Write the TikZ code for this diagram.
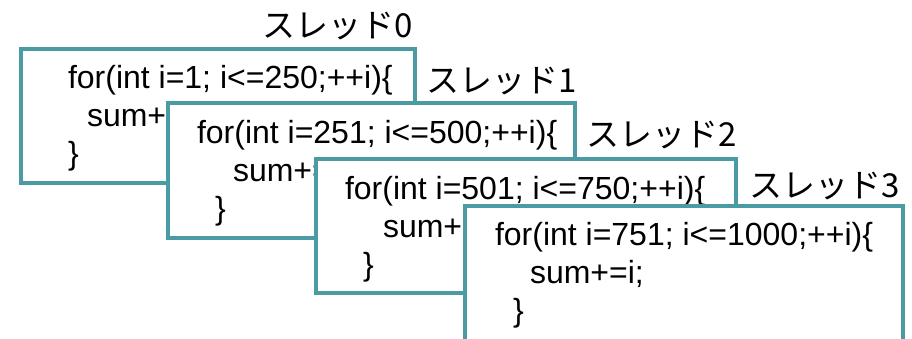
\documentclass[tikz,border=0pt]{standalone}
\usepackage{fontspec}
\setmainfont{Liberation Sans}
\newfontfamily\jpfont{Noto Sans CJK JP}
\definecolor{boxteal}{RGB}{74,155,164}
\tikzset{
  codebox/.style={draw=boxteal, line width=3.5pt, fill=white, rectangle,
    inner sep=0pt, outer sep=0pt, anchor=north west},
  codeline/.style={anchor=base west, inner sep=0pt, outer sep=0pt,
    font=\fontsize{32}{38}\selectfont},
  threadlabel/.style={anchor=base east, inner sep=0pt, outer sep=0pt,
    font=\jpfont\fontsize{33}{40}\selectfont}
}
\begin{document}
\begin{tikzpicture}[x=1pt,y=-1pt]
\useasboundingbox (0,0) rectangle (912,338);
\clip (0,0) rectangle (912,338);
% thread 0
\node[threadlabel] (l0) at (413,37) {スレッド0};
\node[codebox, minimum width=394pt, minimum height=134pt] (b0) at (21,49) {};
\node[codeline] (t0a) at (68,88) {for(int i=1; i<=250;++i)\{};
\node[codeline] (t0b) at (87,126) {sum+=i;};
\node[codeline] (t0c) at (68,164) {\}};
% thread 1
\node[threadlabel] (l1) at (577,92) {スレッド1};
\node[codebox, minimum width=407pt, minimum height=135pt] (b1) at (168,103) {};
\node[codeline] (t1a) at (197,143) {for(int i=251; i<=500;++i)\{};
\node[codeline] (t1b) at (233,181) {sum+=i;};
\node[codeline] (t1c) at (215,219) {\}};
% thread 2
\node[threadlabel] (l2) at (737,146) {スレッド2};
\node[codebox, minimum width=420pt, minimum height=134pt] (b2) at (316,159) {};
\node[codeline] (t2a) at (345,199) {for(int i=501; i<=750;++i)\{};
\node[codeline] (t2b) at (383,237) {sum+=i;};
\node[codeline] (t2c) at (363,275) {\}};
% thread 3
\node[threadlabel] (l3) at (900,197) {スレッド3};
\node[codebox, minimum width=438pt, minimum height=160pt] (b3) at (465,206) {};
\node[codeline] (t3a) at (495,245) {for(int i=751; i<=1000;++i)\{};
\node[codeline] (t3b) at (530,283) {sum+=i;};
\node[codeline] (t3c) at (513,321) {\}};
\end{tikzpicture}
\end{document}
